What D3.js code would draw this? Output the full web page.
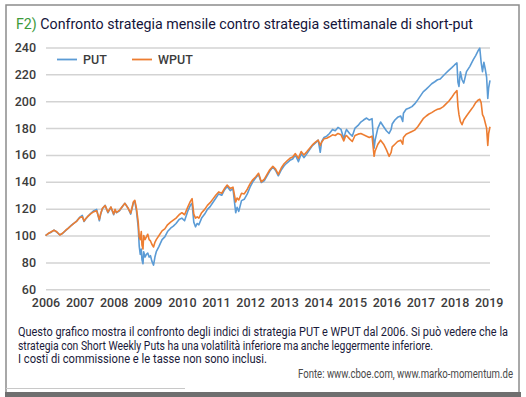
<!DOCTYPE html>
<html><head><meta charset="utf-8">
<script src="https://cdn.jsdelivr.net/npm/d3@7"></script>
<style>
html,body{margin:0;padding:0;background:#fff;}
svg{display:block;}
text{font-family:Roboto,"Liberation Sans",Arial,sans-serif;}
</style></head>
<body>
<svg id="c" width="526" height="397"></svg>
<script>
const years = [2006,2007,2008,2009,2010,2011,2012,2013,2014,2015,2016,2017,2018,2019];
const yTicks = [60,80,100,120,140,160,180,200,220,240];
const seriesNames = ["PUT","WPUT"];
const dates = [
2006.00,2006.08,2006.17,2006.25,2006.33,2006.42,2006.50,2006.58,2006.67,2006.75,2006.83,2006.92,
2007.00,2007.08,2007.13,2007.17,2007.25,2007.33,2007.42,2007.50,2007.58,2007.62,2007.67,2007.75,2007.83,2007.92,
2008.00,2008.04,2008.08,2008.17,2008.25,2008.33,2008.42,2008.50,2008.58,2008.62,2008.67,2008.72,2008.75,2008.78,2008.81,2008.83,2008.86,2008.88,2008.92,2008.96,
2009.00,2009.04,2009.08,2009.12,2009.17,2009.21,2009.25,2009.33,2009.42,2009.50,2009.58,2009.67,2009.75,2009.83,2009.92,
2010.00,2010.08,2010.17,2010.25,2010.30,2010.35,2010.40,2010.45,2010.50,2010.58,2010.67,2010.75,2010.83,2010.92,
2011.00,2011.08,2011.17,2011.25,2011.33,2011.42,2011.50,2011.58,2011.62,2011.67,2011.75,2011.83,2011.92,
2012.00,2012.08,2012.17,2012.25,2012.33,2012.42,2012.50,2012.58,2012.67,2012.75,2012.83,2012.92,
2013.00,2013.08,2013.17,2013.25,2013.33,2013.42,2013.50,2013.58,2013.67,2013.75,2013.83,2013.92,
2014.00,2014.06,2014.10,2014.17,2014.25,2014.33,2014.42,2014.50,2014.58,2014.67,2014.75,2014.80,2014.83,2014.92,
2015.00,2015.08,2015.17,2015.25,2015.33,2015.42,2015.50,2015.58,2015.64,2015.67,2015.75,2015.83,2015.92,
2016.00,2016.08,2016.14,2016.17,2016.25,2016.33,2016.42,2016.48,2016.50,2016.58,2016.67,2016.75,2016.83,2016.92,
2017.00,2017.08,2017.17,2017.25,2017.33,2017.42,2017.50,2017.58,2017.67,2017.75,2017.83,2017.92,
2018.00,2018.07,2018.10,2018.13,2018.17,2018.22,2018.27,2018.35,2018.45,2018.55,2018.62,2018.70,2018.74,2018.78,2018.82,2018.86,2018.90,2018.94,2018.975,
2019.00,2019.04
];
const put = [
100,101.5,102.5,104,102.5,100.5,101.5,103.5,105.5,107.5,109,111,
113.5,115,110.5,112,114.5,116.5,118.5,119.5,111,116,120,122.5,117,121,
115.5,119,117,118.5,121.5,124,120.5,116,124.5,125.5,118,106,92,86,90,82,79,88,84,86,
87,84,85,81,78,84,88,92,97,99,103,105.5,107,109,112,
113,111,118,122.5,124,110,106.5,109,108,113,116,119.5,121.5,125,
128,131,130,134,136.5,133.5,135,117,121,118,126,127,131,
136,140,143,145.5,139.5,141,144.5,148,151,148.5,144.5,149,
152,154,156,157,160,155,161,158,161,164,167,169,
171,162,170,173,174,176,179,178,180.5,179,172,177,179,176,
174,180,182,184.5,186,187.5,186,187,165,171,180,184.5,181,
178,176,179,183,186,188,189,185,191,194,195,196,198,201,
204,207,209,211,213,214.5,216,216.5,219,221,223,225,
227,228.5,214,211,222,216,213.5,222,226,231,234,238,239.5,229,222,229,224,218,202,
210,215.5
];
const wput = [
100,101.5,102.8,104,102.8,100.4,101.7,103.6,105.5,107.3,109,110.8,
113.2,114,110.8,112.3,114.5,116.3,117.8,118.5,112,116.5,120.3,122.3,117.5,121.3,
116,119.5,117.2,118.8,121.5,124,120.5,116.8,125.2,126.3,120,110,99,97,103,93,90,100,97,99,
101,97,96,93.5,91.5,95,97,100,103.5,105,108,110,111.5,113,115.5,
117,115.5,121,125.5,127.5,116,113,114,113,117,119.5,122.5,124.5,127.5,
130.2,132.5,131.5,135,137.6,135,136,125,128,126.5,131.5,131,134.5,
138.5,141.5,143.8,146.4,140,142,145.5,149,151.5,149.5,145.5,150.5,
153.5,155.5,157.5,158.5,161,157.5,162.5,160,162.5,165,167.5,169.5,
171,167,169.5,172,172.5,173.5,175,174.5,176,175,170.5,174,174.5,172,
170,174.5,175.5,176,175,174,173,174,159,163,168,171,168,
164,159,162,166,168,170,171,168,173,175.5,176.5,177.5,178.5,181,
184,187,189,190.5,191.5,193,194,194.5,196,198,200,203,
206,208,196,190,185,182.5,186,189,192.5,196,199,201,201.5,199,190,188,184,180,167,
176,181
];

const svg = d3.select("#c");

// panel frame
svg.append("rect").attr("x",6).attr("y",5).attr("width",513).attr("height",388)
  .attr("fill","#fff").attr("stroke","#8c8c8c").attr("stroke-width",1.5);
svg.append("rect").attr("x",5).attr("y",392).attr("width",516).attr("height",5).attr("fill","#6f6f6f");
svg.append("line").attr("x1",6).attr("x2",185).attr("y1",388.5).attr("y2",388.5)
  .attr("stroke","#c8c8c8").attr("stroke-width",1);

// title
const title = svg.append("text").attr("x",16).attr("y",29).attr("font-size",14.5)
  .attr("textLength",457).attr("lengthAdjust","spacingAndGlyphs");
title.append("tspan").attr("fill","#3d9a3a").text("F2)");
title.append("tspan").attr("fill","#14143a").text(" Confronto strategia mensile contro strategia settimanale di short-put");

// scales
const x = d3.scaleLinear().domain([2006, 2019.04]).range([45.5, 490]);
const y = d3.scaleLinear().domain([60, 240]).range([289.3, 47.5]);

// gridlines + y labels
const yAxis = svg.append("g").attr("transform","translate(46,0)")
  .call(d3.axisLeft(y).tickValues(yTicks).tickSize(-444).tickPadding(10).tickFormat(d3.format("d")));
yAxis.select(".domain").remove();
yAxis.selectAll(".tick line").attr("stroke","#d3d3d3").attr("stroke-width",1.5);
yAxis.selectAll(".tick text").attr("fill","#3c3c3c").attr("font-size",12.5).attr("font-weight",500)
  .attr("font-family","Roboto,'Liberation Sans',sans-serif");

// x labels
const xAxis = svg.append("g").attr("transform","translate(0,298)")
  .call(d3.axisBottom(x).tickValues(years).tickSize(0).tickPadding(0).tickFormat(d3.format("d")));
xAxis.select(".domain").remove();
xAxis.selectAll(".tick text").attr("fill","#3c3c3c").attr("font-size",12.5).attr("font-weight",500)
  .attr("font-family","Roboto,'Liberation Sans',sans-serif");

// lines
const line = vals => d3.line().x((d,i)=>x(dates[i])).y(d=>y(d))(vals);
svg.append("path").attr("d",line(put)).attr("fill","none").attr("stroke","#5b9bd5").attr("stroke-width",1.6).attr("stroke-linejoin","round");
svg.append("path").attr("d",line(wput)).attr("fill","none").attr("stroke","#ed7d31").attr("stroke-width",1.6).attr("stroke-linejoin","round");

// legend
const legColors = ["#5b9bd5","#ed7d31"];
const legX = [57,132];
seriesNames.forEach((n,i)=>{
  svg.append("line").attr("x1",legX[i]).attr("x2",legX[i]+20).attr("y1",59.5).attr("y2",59.5)
    .attr("stroke",legColors[i]).attr("stroke-width",1.8);
  svg.append("text").attr("x",legX[i]+26).attr("y",64).attr("font-size",12.5).attr("font-weight",500)
    .attr("fill","#3c3c3c").text(n);
});

// caption
const cap = [
  ["Questo grafico mostra il confronto degli indici di strategia PUT e WPUT dal 2006. Si può vedere che la",336,490],
  ["strategia con Short Weekly Puts ha una volatilità inferiore ma anche leggermente inferiore.",349.5,415],
  ["I costi di commissione e le tasse non sono inclusi.",363,249]
];
cap.forEach(c=>{
  svg.append("text").attr("x",18).attr("y",c[1]).attr("font-size",12)
    .attr("font-family","'Liberation Sans Narrow','Roboto',sans-serif")
    .attr("fill","#1a1a3a").attr("textLength",c[2]).attr("lengthAdjust","spacingAndGlyphs").text(c[0]);
});
svg.append("text").attr("x",513).attr("y",378).attr("text-anchor","end").attr("font-size",12)
  .attr("font-family","'Liberation Sans Narrow','Roboto',sans-serif")
  .attr("fill","#4a4a4a").attr("textLength",215).attr("lengthAdjust","spacingAndGlyphs")
  .text("Fonte: www.cboe.com, www.marko-momentum.de");
</script>
</body></html>
